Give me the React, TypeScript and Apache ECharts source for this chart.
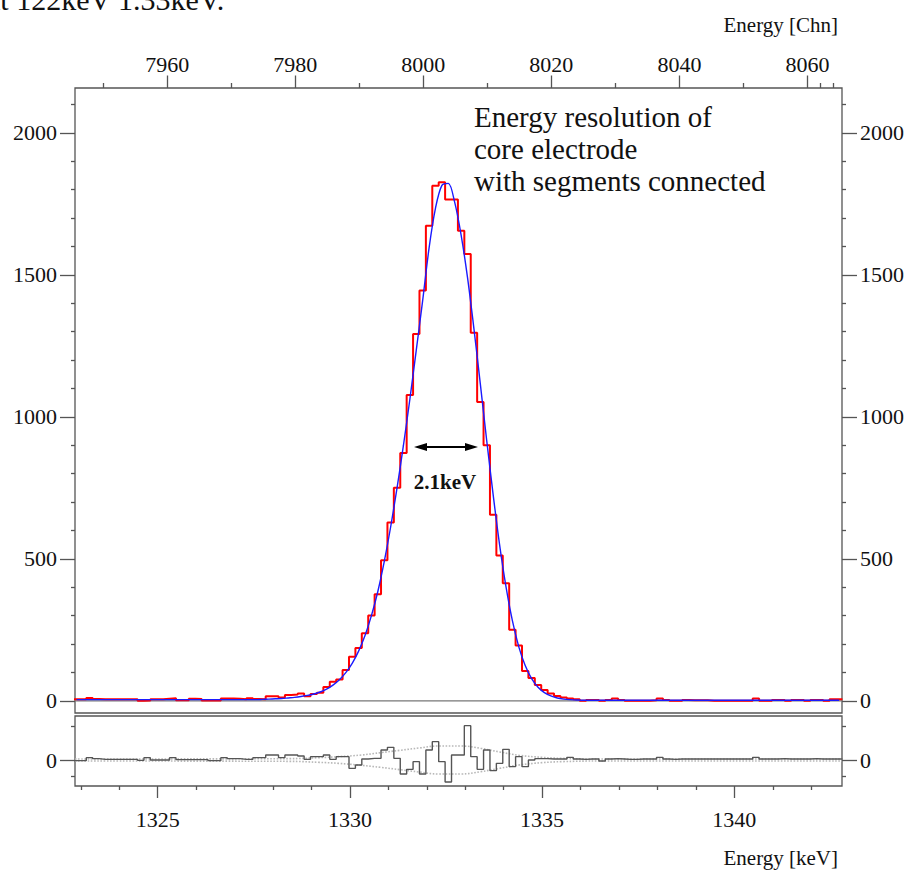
import React, { useEffect, useRef } from "react";
import * as echarts from "echarts";

const SERIF = '"Liberation Serif", "DejaVu Serif", serif';

// Axis ranges
const KEV_MIN = 1322.85;
const KEV_MAX = 1342.8;
const CHN_MIN = 7945.6;
const CHN_MAX = 8065.4;
const Y_MIN = -43;
const Y_MAX = 2158;
const R_MIN = -78;
const R_MAX = 132;

// Tick values
const KEV_TICKS = [1325, 1330, 1335, 1340];
const KEV_MINOR = [1323, 1324, 1326, 1327, 1328, 1329, 1331, 1332, 1333, 1334, 1336, 1337, 1338, 1339, 1341, 1342];
const CHN_TICKS = [7960, 7980, 8000, 8020, 8040, 8060];
const CHN_MINOR = [7950, 7970, 7990, 8010, 8030, 8050, 8062, 8064];
const Y_TICKS = [0, 500, 1000, 1500, 2000];
const Y_MINOR = [100, 200, 300, 400, 600, 700, 800, 900, 1100, 1200, 1300, 1400, 1600, 1700, 1800, 1900, 2100];
const R_TICKS = [0];
const R_MINOR = [-50, 100];

// Histogram binning (keV)
const BIN_START = 1322.81;
const BIN_WIDTH = 1 / 6;

// Measured counts per bin (red histogram)
const COUNTS = [
  5, 5, 10, 6, 5, 5, 5, 5, 5, 5,
  0, 1, 5, 5, 7, 9, 2, 2, 7, 6,
  1, 1, 1, 8, 8, 7, 5, 9, 6, 5,
  16, 16, 12, 20, 22, 26, 16, 24, 28, 49,
  67, 75, 108, 155, 186, 238, 300, 375, 495, 628,
  750, 873, 1077, 1292, 1445, 1673, 1814, 1826, 1765, 1765,
  1655, 1573, 1296, 1052, 900, 655, 512, 414, 250, 195,
  105, 80, 56, 38, 26, 17, 12, 8, 5, 0,
  3, 3, 0, 3, 8, 3, 0, 0, 0, 0,
  2, 8, 3, 0, 0, 3, 2, 2, 2, 0,
  0, 0, 0, 0, 0, 0, 8, 0, 0, 3,
  3, 0, 3, 3, 0, 3, 3, 0, 5, 5,
];

// Fit curve (blue) read at bin centres
const FIT = [
  4, 4, 4, 4, 4, 4, 4, 4, 4, 4,
  4, 4, 4, 4, 4, 4, 4, 4, 4, 4,
  4, 4, 4, 4, 4, 4, 4, 4, 4, 5,
  6, 7, 8, 10, 12, 15, 19, 24, 31, 41,
  55, 74, 99, 132, 175, 230, 300, 385, 490, 612,
  750, 900, 1062, 1235, 1410, 1595, 1735, 1815, 1822, 1755,
  1640, 1490, 1310, 1115, 915, 725, 550, 402, 282, 190,
  124, 78, 48, 29, 17, 10, 6, 4, 3, 2,
  2, 2, 2, 2, 2, 2, 2, 2, 2, 2,
  2, 2, 2, 2, 2, 2, 2, 2, 2, 2,
  2, 2, 2, 2, 2, 2, 2, 2, 2, 2,
  2, 2, 2, 2, 2, 2, 2, 2, 2, 2,
];

// Residuals per bin (grey histogram, lower pad)
const RESID = [
  -2, -2, 7, 4, 2, 2, 2, 2, 2, 2,
  -1, 7, 0, 0, 0, 7, 1, 1, 1, 1,
  1, -2, -2, 7, 4, 4, 2, 2, 7, 7,
  15, 15, 7, 15, 15, 12, 2, 10, 10, 15,
  2, 10, 10, -25, -15, 3, 5, 5, 30, 38,
  5, -42, -28, -5, -42, 30, 55, -5, -66, 15,
  15, 103, 10, -28, 30, -32, -10, 32, -20, 10,
  -20, 0, 4, 4, 3, 3, 3, 8, 3, 2,
  3, 3, -3, 3, 4, 3, 2, 2, 3, 3,
  3, 8, 3, 2, 3, 3, 3, 3, 3, 3,
  3, 3, 3, 3, 3, 3, 8, 3, 3, 3,
  4, 3, 3, 3, 3, 4, 3, 3, 3, 3,
];

// Dotted error envelope in the residual pad
const ENV_KEV = [1322.85, 1328.4, 1329.2, 1329.7, 1330.3, 1330.8, 1331.3, 1331.8, 1332.3, 1332.9, 1333.4, 1333.9, 1334.4, 1335.0, 1335.5, 1336.5, 1342.8];
const ENV_UP = [3, 4, 7, 10, 15, 22, 29, 36, 42, 42, 35, 24, 14, 8, 5, 3, 3];
const ENV_DN = [-3, -4, -7, -10, -16, -22, -29, -36, -42, -42, -35, -25, -15, -8, -5, -3, -3];

const AXIS_COLOR = "#555";
const TEXT_COLOR = "#111";

function tickAxis(opts: any) {
  const { gridIndex, position, min, max, ticks, length, labels, margin } = opts;
  return {
    type: "value",
    gridIndex,
    position,
    min,
    max,
    axisLine: { show: false, onZero: false },
    splitLine: { show: false },
    axisTick: {
      show: true,
      inside: false,
      length,
      customValues: ticks,
      lineStyle: { color: AXIS_COLOR, width: 1.3 },
    },
    axisLabel: labels
      ? {
          show: true,
          customValues: ticks,
          formatter: (v: number) => String(Math.round(v)),
          fontFamily: SERIF,
          fontSize: 22,
          color: TEXT_COLOR,
          margin,
        }
      : { show: false },
  };
}

export default function App() {
  const ref = useRef<HTMLDivElement>(null);

  useEffect(() => {
    if (!ref.current) return;
    const chart = echarts.init(ref.current, undefined, { renderer: "svg" });

    const histData: number[][] = COUNTS.map((v, i) => [BIN_START + i * BIN_WIDTH, v]);
    histData.push([BIN_START + COUNTS.length * BIN_WIDTH, COUNTS[COUNTS.length - 1]]);
    const resData: number[][] = RESID.map((v, i) => [BIN_START + i * BIN_WIDTH, v]);
    resData.push([BIN_START + RESID.length * BIN_WIDTH, RESID[RESID.length - 1]]);
    const fitData = FIT.map((v, i) => [BIN_START + (i + 0.5) * BIN_WIDTH, v]);
    const envUp = ENV_KEV.map((x, i) => [x, ENV_UP[i]]);
    const envDn = ENV_KEV.map((x, i) => [x, ENV_DN[i]]);

    const option: any = {
      animation: false,
      backgroundColor: "#fff",
      grid: [
        { left: 75, top: 88, width: 767, height: 625, show: true, borderColor: AXIS_COLOR, borderWidth: 1.3 },
        { left: 75, top: 716, width: 767, height: 70, show: true, borderColor: AXIS_COLOR, borderWidth: 1.3 },
      ],
      xAxis: [
        {
          type: "value", gridIndex: 0, position: "bottom", min: KEV_MIN, max: KEV_MAX,
          axisLine: { show: false, onZero: false }, axisTick: { show: false }, axisLabel: { show: false }, splitLine: { show: false },
        },
        tickAxis({ gridIndex: 0, position: "top", min: CHN_MIN, max: CHN_MAX, ticks: CHN_TICKS, length: 12.5, labels: true, margin: 13 }),
        tickAxis({ gridIndex: 0, position: "top", min: CHN_MIN, max: CHN_MAX, ticks: CHN_MINOR, length: 5, labels: false }),
        tickAxis({ gridIndex: 1, position: "bottom", min: KEV_MIN, max: KEV_MAX, ticks: KEV_TICKS, length: 12, labels: true, margin: 22 }),
        tickAxis({ gridIndex: 1, position: "bottom", min: KEV_MIN, max: KEV_MAX, ticks: KEV_MINOR, length: 4, labels: false }),
      ],
      yAxis: [
        tickAxis({ gridIndex: 0, position: "left", min: Y_MIN, max: Y_MAX, ticks: Y_TICKS, length: 15, labels: true, margin: 18 }),
        tickAxis({ gridIndex: 0, position: "left", min: Y_MIN, max: Y_MAX, ticks: Y_MINOR, length: 4, labels: false }),
        tickAxis({ gridIndex: 0, position: "right", min: Y_MIN, max: Y_MAX, ticks: Y_TICKS, length: 15, labels: true, margin: 18 }),
        tickAxis({ gridIndex: 0, position: "right", min: Y_MIN, max: Y_MAX, ticks: Y_MINOR, length: 4, labels: false }),
        tickAxis({ gridIndex: 1, position: "left", min: R_MIN, max: R_MAX, ticks: R_TICKS, length: 15, labels: true, margin: 18 }),
        tickAxis({ gridIndex: 1, position: "left", min: R_MIN, max: R_MAX, ticks: R_MINOR, length: 4, labels: false }),
        tickAxis({ gridIndex: 1, position: "right", min: R_MIN, max: R_MAX, ticks: R_TICKS, length: 15, labels: true, margin: 18 }),
        tickAxis({ gridIndex: 1, position: "right", min: R_MIN, max: R_MAX, ticks: R_MINOR, length: 4, labels: false }),
      ],
      series: [
        {
          type: "line", xAxisIndex: 0, yAxisIndex: 0, showSymbol: false, silent: true,
          data: [[KEV_MIN, 0], [KEV_MAX, 0]],
          lineStyle: { color: "#777", width: 1.3 }, z: 1,
        },
        {
          type: "line", xAxisIndex: 0, yAxisIndex: 0, step: "end", showSymbol: false, silent: true,
          data: histData, lineStyle: { color: "#ff0000", width: 2 }, z: 2,
        },
        {
          type: "line", xAxisIndex: 0, yAxisIndex: 0, smooth: 0.3, showSymbol: false, silent: true,
          data: fitData, lineStyle: { color: "#1a1aff", width: 1.4 }, z: 3,
        },
        {
          type: "line", xAxisIndex: 3, yAxisIndex: 4, smooth: 0.4, showSymbol: false, silent: true,
          data: envUp, lineStyle: { color: "#b8b8b8", width: 1.6, type: "dotted" }, z: 1,
        },
        {
          type: "line", xAxisIndex: 3, yAxisIndex: 4, smooth: 0.4, showSymbol: false, silent: true,
          data: envDn, lineStyle: { color: "#b8b8b8", width: 1.6, type: "dotted" }, z: 1,
        },
        {
          type: "line", xAxisIndex: 3, yAxisIndex: 4, step: "end", showSymbol: false, silent: true,
          data: resData, lineStyle: { color: "#555", width: 1.4 }, z: 2,
        },
      ],
      graphic: [
        {
          type: "text", x: -13, y: -1,
          style: { text: "at 122keV 1.33keV.", fontFamily: SERIF, fontSize: 30, fill: TEXT_COLOR, align: "left", verticalAlign: "middle" },
        },
        {
          type: "text", x: 838, y: 25,
          style: { text: "Energy [Chn]", fontFamily: SERIF, fontSize: 21, fill: TEXT_COLOR, align: "right", verticalAlign: "middle" },
        },
        {
          type: "text", x: 838, y: 858,
          style: { text: "Energy [keV]", fontFamily: SERIF, fontSize: 21, fill: TEXT_COLOR, align: "right", verticalAlign: "middle" },
        },
        {
          type: "text", x: 474, y: 117,
          style: { text: "Energy resolution of", fontFamily: SERIF, fontSize: 29, fill: TEXT_COLOR, align: "left", verticalAlign: "middle" },
        },
        {
          type: "text", x: 474, y: 149,
          style: { text: "core electrode", fontFamily: SERIF, fontSize: 29, fill: TEXT_COLOR, align: "left", verticalAlign: "middle" },
        },
        {
          type: "text", x: 474, y: 181,
          style: { text: "with segments connected", fontFamily: SERIF, fontSize: 29, fill: TEXT_COLOR, align: "left", verticalAlign: "middle" },
        },
        {
          type: "text", x: 445, y: 482,
          style: { text: "2.1keV", fontFamily: SERIF, fontSize: 21, fontWeight: "bold", fill: TEXT_COLOR, align: "center", verticalAlign: "middle" },
        },
        {
          type: "line", shape: { x1: 424, y1: 447, x2: 468, y2: 447 },
          style: { stroke: "#000", lineWidth: 2 },
        },
        {
          type: "polygon", shape: { points: [[414, 447], [427, 443], [427, 451]] },
          style: { fill: "#000" },
        },
        {
          type: "polygon", shape: { points: [[478, 447], [465, 443], [465, 451]] },
          style: { fill: "#000" },
        },
      ],
    };

    chart.setOption(option);
    return () => chart.dispose();
  }, []);

  return (
    <div
      ref={ref}
      style={{ position: "absolute", left: 0, top: 0, width: 909, height: 872, background: "#fff" }}
    />
  );
}
